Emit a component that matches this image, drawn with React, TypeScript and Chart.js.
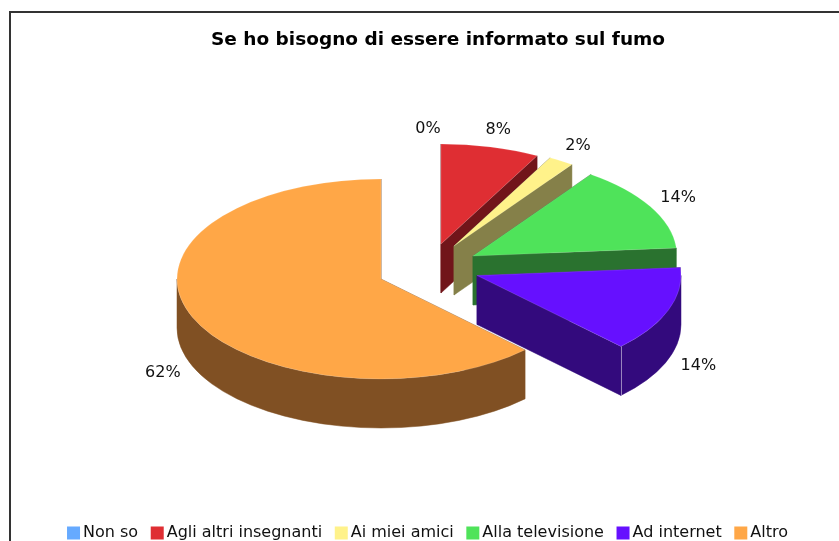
import React, { useEffect, useRef } from "react";
import { Chart, registerables } from "chart.js";

Chart.register(...registerables);

const chartTitle = "Se ho bisogno di essere informato sul fumo";
const categories = ["Non so", "Agli altri insegnanti", "Ai miei amici", "Alla televisione", "Ad internet", "Altro"];
const values = [0, 7.8, 2.0, 13.9, 13.8, 62.4];
const colours = ["#66aaff", "#df2e33", "#fff28a", "#4fe35a", "#6610ff", "#ffa747"];
const wallColours = ["#335580", "#71151a", "#858049", "#2a722f", "#330a7d", "#805023"];
// Explosion of each slice on the page, in pixels.
const explodeX = [47, 60, 73, 92, 96, 0];
const explodeY = [-32, -35, -33, -23, -3.5, 0];

const FONT = '"DejaVu Sans", sans-serif';
const CX = 381;
const CY = 279;
const RX = 204;
const RY = 100;
const KY = RY / RX;
const DEPTH = 49;
const LEGEND_SHIFT_X = -8;
const LEGEND_SHIFT_Y = -5;

const pie3d = {
  id: "pie3d",
  afterLayout(chart: any) {
    const lg = chart.legend;
    lg.left += LEGEND_SHIFT_X;
    lg.right += LEGEND_SHIFT_X;
    lg.top += LEGEND_SHIFT_Y;
    lg.bottom += LEGEND_SHIFT_Y;
  },
  afterDatasetsUpdate(chart: any) {
    chart.getDatasetMeta(0).data.forEach((el: any, i: number) => {
      el.x = CX + explodeX[i];
      el.y = CY + explodeY[i] / KY;
    });
  },
  beforeDraw(chart: any) {
    const { ctx } = chart;
    ctx.save();
    ctx.strokeStyle = "#333333";
    ctx.lineWidth = 2;
    ctx.strokeRect(10, 12, chart.width - 20, chart.height + 40);
    ctx.restore();
  },
  beforeDatasetsDraw(chart: any) {
    const { ctx } = chart;
    const arcs = chart.getDatasetMeta(0).data;
    arcs.forEach((el: any, i: number) => {
      if (!(values[i] > 0)) return;
      const ax = CX + explodeX[i];
      const ay = CY + explodeY[i];
      const s = el.startAngle;
      const e = el.endAngle;
      const pt = (a: number) => [ax + RX * Math.cos(a), ay + RY * Math.sin(a)];
      ctx.save();
      ctx.fillStyle = wallColours[i];
      ctx.strokeStyle = wallColours[i];
      ctx.lineWidth = 0.5;
      [s, e].forEach((a) => {
        const [px, py] = pt(a);
        ctx.beginPath();
        ctx.moveTo(ax, ay);
        ctx.lineTo(px, py);
        ctx.lineTo(px, py + DEPTH);
        ctx.lineTo(ax, ay + DEPTH);
        ctx.closePath();
        ctx.fill();
        ctx.stroke();
      });
      const a0 = Math.max(s, 0);
      const a1 = Math.min(e, Math.PI);
      if (a1 > a0) {
        ctx.beginPath();
        ctx.ellipse(ax, ay, RX, RY, 0, a0, a1);
        ctx.ellipse(ax, ay + DEPTH, RX, RY, 0, a1, a0, true);
        ctx.closePath();
        ctx.fill();
        ctx.stroke();
      }
      if (e > 0 && e < Math.PI) {
        const [px, py] = pt(e);
        ctx.strokeStyle = "rgba(255,255,255,0.5)";
        ctx.lineWidth = 1;
        ctx.beginPath();
        ctx.moveTo(Math.round(px) + 0.5, py);
        ctx.lineTo(Math.round(px) + 0.5, py + DEPTH);
        ctx.stroke();
      }
      ctx.restore();
    });
    ctx.save();
    ctx.translate(0, CY);
    ctx.scale(1, KY);
    ctx.translate(0, -CY);
  },
  afterDatasetsDraw(chart: any) {
    const { ctx } = chart;
    ctx.restore();
    const arcs = chart.getDatasetMeta(0).data;
    const total = values.reduce((a, b) => a + b, 0);
    ctx.save();
    ctx.font = `16px ${FONT}`;
    ctx.fillStyle = "#111111";
    ctx.textAlign = "center";
    ctx.textBaseline = "middle";
    arcs.forEach((el: any, i: number) => {
      const mid = (el.startAngle + el.endAngle) / 2;
      const c = Math.cos(mid);
      const sn = Math.sin(mid);
      const x = CX + explodeX[i] + RX * c + 32 * c;
      const y = CY + explodeY[i] + RY * sn + 18 * sn + (sn > 0 ? DEPTH : 0);
      ctx.fillText(`${Math.round((values[i] / total) * 100)}%`, x, y);
    });
    ctx.restore();
  },
};

export default function App() {
  const ref = useRef<HTMLCanvasElement>(null);
  useEffect(() => {
    const chart = new Chart(ref.current as HTMLCanvasElement, {
      type: "pie",
      data: {
        labels: categories,
        datasets: [
          {
            data: values,
            backgroundColor: colours,
            borderColor: "rgba(255,255,255,0.2)",
            borderWidth: 1,
          },
        ],
      },
      options: {
        animation: false,
        responsive: false,
        radius: RX,
        plugins: {
          tooltip: { enabled: false },
          title: {
            display: true,
            text: chartTitle,
            color: "#000000",
            font: { family: FONT, size: 18.5, weight: "bold" },
            padding: { top: 29, bottom: 10 },
          },
          legend: {
            position: "bottom",
            labels: {
              color: "#111111",
              font: { family: FONT, size: 16 },
              boxWidth: 3,
              boxHeight: 3,
              padding: 17.6,
              generateLabels: () =>
                categories.map((text, i) => ({
                  text,
                  index: i,
                  fillStyle: colours[i],
                  strokeStyle: colours[i],
                  lineWidth: 10,
                  lineJoin: "miter",
                  fontColor: "#111111",
                })),
            },
          },
        },
      } as any,
      plugins: [pie3d],
    });
    return () => chart.destroy();
  }, []);
  return (
    <div style={{ position: "fixed", left: 0, top: 0, width: 839, height: 541, overflow: "hidden", background: "#fff" }}>
      <canvas ref={ref} width={876} height={556} style={{ display: "block" }} />
    </div>
  );
}
